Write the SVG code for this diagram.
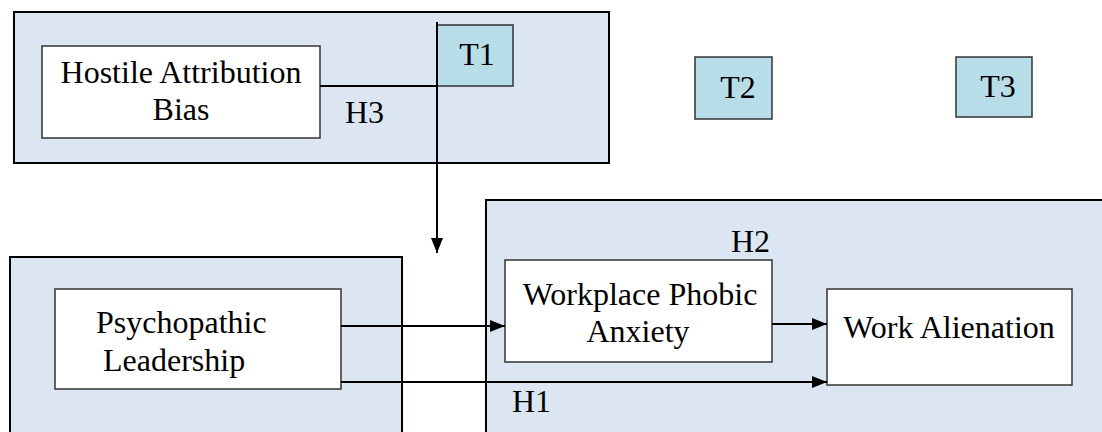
<svg xmlns="http://www.w3.org/2000/svg" width="1102" height="432" viewBox="0 0 1102 432">
<style>
.panel{fill:#dce6f2;stroke:#000;stroke-width:2}
.box{fill:#fff;stroke:#333;stroke-width:1.5}
.tbox{fill:#b7dde8;stroke:#333;stroke-width:1.5}
.t{font-family:"Liberation Serif","Times New Roman",serif;font-size:32px;fill:#000}
.c{text-anchor:middle}
.ln{stroke:#000;stroke-width:2;fill:none}
</style>
<defs>
<marker id="ah" markerWidth="15" markerHeight="14" refX="15" refY="7" orient="auto" markerUnits="userSpaceOnUse">
<path d="M0,1 L15,7 L0,13 z" fill="#000"/>
</marker>
</defs>
<g id="panel-top"><rect class="panel" x="14" y="12" width="595" height="151"/></g>
<g id="panel-left"><rect class="panel" x="10" y="257" width="392" height="190"/></g>
<g id="panel-right"><rect class="panel" x="486" y="200" width="630" height="246"/></g>
<g id="hab"><rect class="box" x="42" y="46" width="278" height="92"/>
<text class="t c" x="181" y="83">Hostile Attribution</text>
<text class="t c" x="181" y="120">Bias</text></g>
<g id="t1"><rect class="tbox" x="437" y="25" width="76" height="61"/><text class="t c" x="477" y="65">T1</text></g>
<g id="t2"><rect class="tbox" x="695" y="57" width="77" height="62"/><text class="t c" x="738" y="98">T2</text></g>
<g id="t3"><rect class="tbox" x="956" y="57" width="76" height="60"/><text class="t c" x="998" y="97">T3</text></g>
<g id="pl"><rect class="box" x="55" y="289" width="286" height="100"/>
<text class="t" x="96" y="333">Psychopathic</text>
<text class="t" x="103" y="371">Leadership</text></g>
<g id="wpa"><rect class="box" x="505" y="260" width="267" height="102"/>
<text class="t c" x="640" y="305">Workplace Phobic</text>
<text class="t c" x="638" y="342">Anxiety</text></g>
<g id="wa"><rect class="box" x="827" y="289" width="245" height="96"/>
<text class="t c" x="949" y="338">Work Alienation</text></g>
<g id="labels">
<text class="t" x="345" y="123">H3</text>
<text class="t" x="731" y="252">H2</text>
<text class="t" x="512" y="412">H1</text>
</g>
<g id="connectors">
<line class="ln" x1="320" y1="86" x2="437" y2="86"/>
<line class="ln" x1="437" y1="22" x2="437" y2="253" marker-end="url(#ah)"/>
<line class="ln" x1="341" y1="326" x2="505" y2="326" marker-end="url(#ah)"/>
<line class="ln" x1="772" y1="324" x2="827" y2="324" marker-end="url(#ah)"/>
<line class="ln" x1="341" y1="382" x2="827" y2="382" marker-end="url(#ah)"/>
</g>
</svg>
